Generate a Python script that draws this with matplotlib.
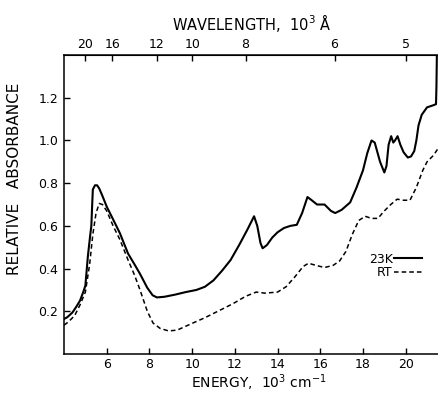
import matplotlib
matplotlib.use("Agg")
import matplotlib.pyplot as plt
import numpy as np

# 23 K spectrum (energy in 10^3 cm-1, relative absorbance)
e_23k = [4.0, 4.15, 4.4, 4.6, 4.75, 4.9, 5.0, 5.12, 5.22, 5.28, 5.32, 5.35, 5.45,
         5.55, 5.65, 5.8, 6.0, 6.15, 6.4, 6.62, 7.0, 7.3, 7.56, 7.9, 8.15, 8.35,
         8.7, 9.2, 9.7, 10.2, 10.6, 11.0, 11.4, 11.8, 12.2, 12.6, 12.9, 13.05,
         13.2, 13.3, 13.5, 13.75, 14.0, 14.3, 14.6, 14.9, 15.15, 15.4, 15.6,
         15.85, 16.2, 16.5, 16.7, 17.0, 17.4, 17.7, 18.0, 18.2, 18.4, 18.55,
         18.8, 19.0, 19.1, 19.2, 19.32, 19.42, 19.5, 19.62, 19.75, 19.9, 20.1,
         20.25, 20.4, 20.5, 20.6, 20.75, 21.0, 21.3, 21.42, 21.44, 21.46]
a_23k = [0.164, 0.172, 0.195, 0.225, 0.25, 0.29, 0.32, 0.46, 0.55, 0.60, 0.70, 0.77,
         0.79, 0.79, 0.775, 0.74, 0.69, 0.66, 0.61, 0.565, 0.47, 0.42, 0.375, 0.31,
         0.275, 0.265, 0.268, 0.278, 0.29, 0.30, 0.315, 0.345, 0.39, 0.44, 0.51,
         0.585, 0.645, 0.60, 0.52, 0.495, 0.51, 0.545, 0.57, 0.59, 0.60, 0.605,
         0.66, 0.735, 0.72, 0.70, 0.70, 0.67, 0.66, 0.675, 0.71, 0.78, 0.86, 0.94,
         1.0, 0.99, 0.90, 0.85, 0.88, 0.98, 1.02, 0.99, 1.00, 1.02, 0.98, 0.945,
         0.92, 0.925, 0.95, 1.0, 1.07, 1.12, 1.155, 1.165, 1.17, 1.25, 1.40]

# room temperature spectrum
e_rt = [4.0, 4.2, 4.5, 4.75, 5.0, 5.2, 5.35, 5.5, 5.65, 5.8, 6.0, 6.3, 6.62, 7.0,
        7.3, 7.56, 7.9, 8.17, 8.5, 8.9, 9.3, 9.7, 10.1, 10.6, 11.2, 11.9, 12.5,
        13.0, 13.4, 14.0, 14.4, 14.8, 15.2, 15.45, 15.8, 16.2, 16.6, 16.9, 17.2,
        17.5, 17.8, 18.1, 18.4, 18.7, 19.0, 19.3, 19.6, 19.9, 20.2, 20.5, 20.8,
        21.0, 21.3, 21.5]
a_rt = [0.135, 0.15, 0.18, 0.23, 0.29, 0.42, 0.56, 0.66, 0.705, 0.70, 0.67, 0.60,
        0.535, 0.44, 0.37, 0.30, 0.20, 0.145, 0.12, 0.108, 0.112, 0.13, 0.148,
        0.17, 0.20, 0.235, 0.27, 0.29, 0.285, 0.29, 0.315, 0.36, 0.41, 0.425,
        0.415, 0.405, 0.415, 0.435, 0.48, 0.56, 0.625, 0.645, 0.635, 0.635, 0.67,
        0.70, 0.725, 0.72, 0.72, 0.78, 0.86, 0.90, 0.93, 0.96]

x_ticks = [6, 8, 10, 12, 14, 16, 18, 20]
y_ticks = [0.2, 0.4, 0.6, 0.8, 1.0, 1.2]
wl_ticks = [20, 16, 12, 10, 8, 6, 5]

plt.rcParams['font.family'] = ['DejaVu Sans']

fig = plt.figure(figsize=(4.39, 3.93), dpi=100)
ax = fig.add_axes([0.1458, 0.0992, 0.8542, 0.7608])

ax.plot(e_23k, a_23k, color='black', lw=1.5, label='23K')
ax.plot(e_rt, a_rt, color='black', lw=1.1, ls=(0, (3, 2)), label='RT')

ax.set_xlim(4.0, 21.56)
ax.set_ylim(0, 1.4)
ax.set_xticks(x_ticks)
ax.set_xticklabels([str(t) for t in x_ticks])
ax.set_yticks(y_ticks)
ax.set_yticklabels(['%.1f' % t for t in y_ticks])
ax.tick_params(direction='in', length=4, width=1, labelsize=9)
ax.tick_params(axis='x', pad=3)
ax.tick_params(axis='y', pad=4)
ax.spines['right'].set_visible(False)
for s in ['left', 'bottom', 'top']:
    ax.spines[s].set_linewidth(1.1)

ax.set_xlabel('ENERGY,  10$^3$ cm$^{-1}$', fontsize=10)
ax.xaxis.set_label_coords(0.52, -0.06)
ax.set_ylabel('RELATIVE   ABSORBANCE', fontsize=11)
ax.yaxis.set_label_coords(-0.112, 0.585)

sec = ax.secondary_xaxis('top', functions=(lambda e: 100.0 / np.maximum(e, 1e-6),
                                            lambda w: 100.0 / np.maximum(w, 1e-6)))
sec.set_xticks(wl_ticks)
sec.set_xticklabels([str(t) for t in wl_ticks])
sec.tick_params(direction='in', length=4, width=1, labelsize=9, pad=3)
sec.set_xlabel('WAVELENGTH,  10$^3$ Å', fontsize=10.5, labelpad=6)

ax.legend(loc='upper right', bbox_to_anchor=(0.97, 0.36), frameon=False,
          markerfirst=False, handlelength=2.2, handletextpad=0.1,
          labelspacing=0.05, fontsize=9, borderpad=0)

fig.savefig('out.png', dpi=100)
